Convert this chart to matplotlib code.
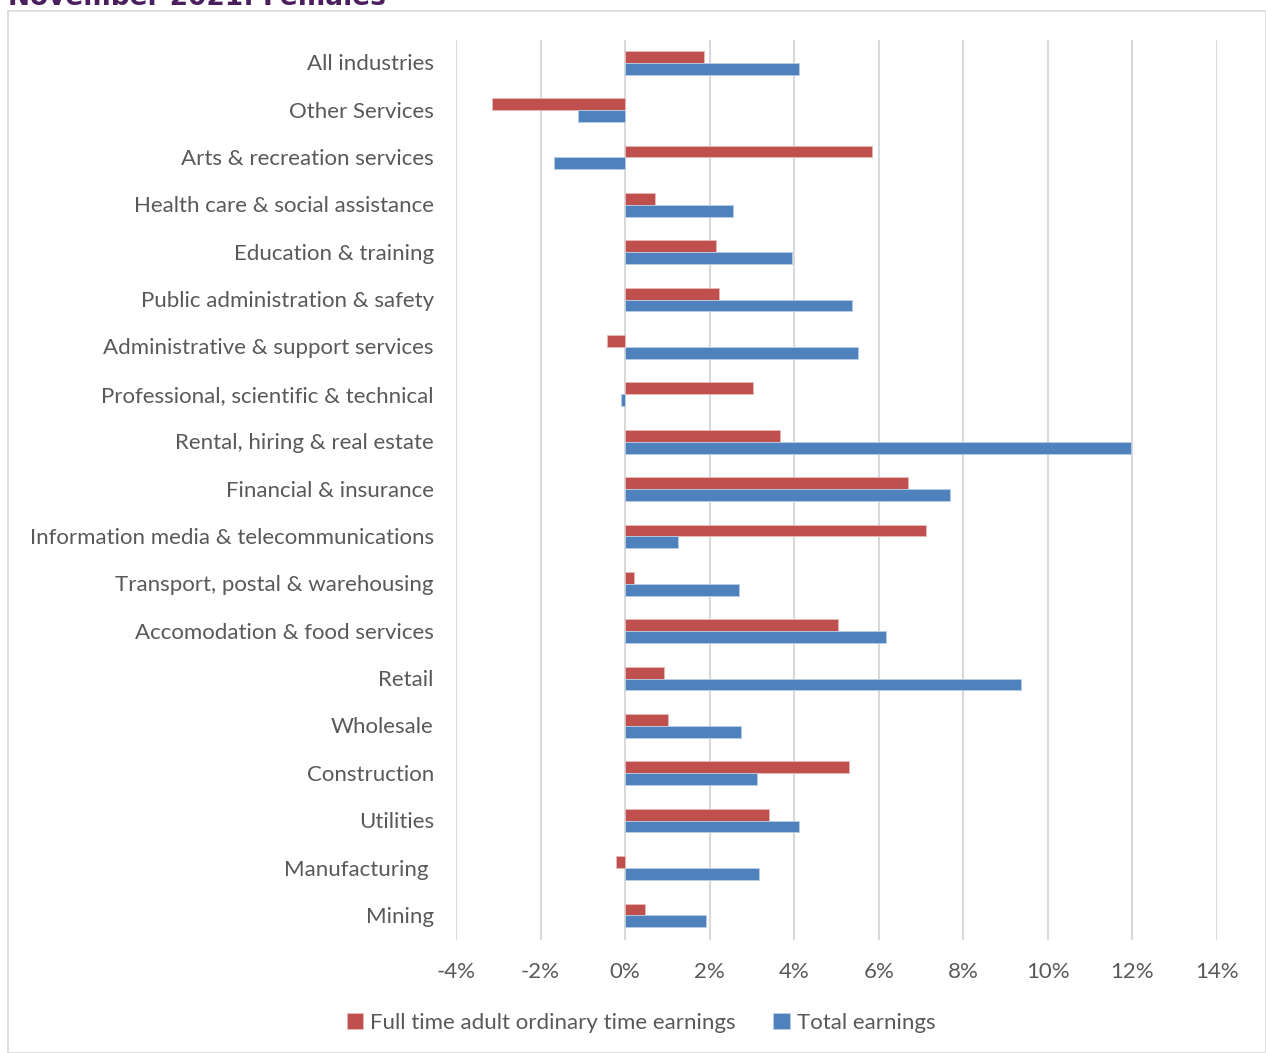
import matplotlib
matplotlib.use("Agg")
import matplotlib.pyplot as plt
import numpy as np
from matplotlib.patches import Rectangle

categories = [
    "All industries", "Other Services", "Arts & recreation services",
    "Health care & social assistance", "Education & training",
    "Public administration & safety", "Administrative & support services",
    "Professional, scientific & technical", "Rental, hiring & real estate",
    "Financial & insurance", "Information media & telecommunications",
    "Transport, postal & warehousing", "Accomodation & food services",
    "Retail", "Wholesale", "Construction", "Utilities", "Manufacturing ", "Mining",
]
full_time = [1.87, -3.14, 5.84, 0.71, 2.15, 2.22, -0.43, 3.03, 3.66, 6.69,
             7.12, 0.21, 5.04, 0.92, 1.02, 5.30, 3.40, -0.21, 0.47]
total = [4.11, -1.11, -1.68, 2.55, 3.95, 5.37, 5.51, -0.09, 11.96, 7.68,
         1.25, 2.70, 6.17, 9.36, 2.74, 3.12, 4.11, 3.17, 1.91]
x_ticks = [-4, -2, 0, 2, 4, 6, 8, 10, 12, 14]
series_names = ["Full time adult ordinary time earnings", "Total earnings"]

plt.rcParams['font.family'] = ['Lato', 'DejaVu Sans']
txt = '#595959'

fig = plt.figure(figsize=(12.66, 10.53), dpi=100)
ax = fig.add_axes([456/1266, 1-940/1053, (1217-456)/1266, 900/1053])

y = np.arange(len(categories))
h = 0.25
ax.barh(y - h/2 - 0.02, full_time, height=h, color='#C0504D', edgecolor='#E6B9B8', linewidth=0.6,
        label=series_names[0], zorder=3)
ax.barh(y + h/2 - 0.02, total, height=h, color='#4F81BD', edgecolor='#B9CDE5', linewidth=0.6,
        label=series_names[1], zorder=3)

ax.set_xlim(-4, 14)
ax.set_ylim(len(categories) - 0.5, -0.5)
ax.set_xticks(x_ticks)
ax.set_xticklabels([f"{v}%" for v in x_ticks])
ax.set_yticks(y - 0.03)
ax.set_yticklabels(categories)
ax.tick_params(axis='y', length=0, pad=16, labelsize=16, labelcolor=txt)
ax.tick_params(axis='x', length=0, pad=16, labelsize=16, labelcolor=txt)
ax.grid(axis='x', color='#D9D9D9', linewidth=1.5, zorder=0)
ax.set_axisbelow(True)
for s in ax.spines.values():
    s.set_visible(False)

leg = fig.legend(loc='center', bbox_to_anchor=(641/1266, 1-1023/1053), ncol=2, frameon=False,
                 fontsize=16, handlelength=0.75, handleheight=0.75, handletextpad=0.3,
                 columnspacing=1.7, labelcolor=txt)

fig.patches.append(Rectangle((8/1266, 0), 1 - 8/1266, 1-11/1053, transform=fig.transFigure,
                             fill=False, edgecolor='#D9D9D9', linewidth=1.2))
fig.text(8/1266, 1-5/1053, "November 2021: Females", color='#4B1F5E', fontsize=19,
         fontweight='bold', ha='left', va='baseline', family=['DejaVu Sans'])

fig.savefig("out.png", dpi=100)
